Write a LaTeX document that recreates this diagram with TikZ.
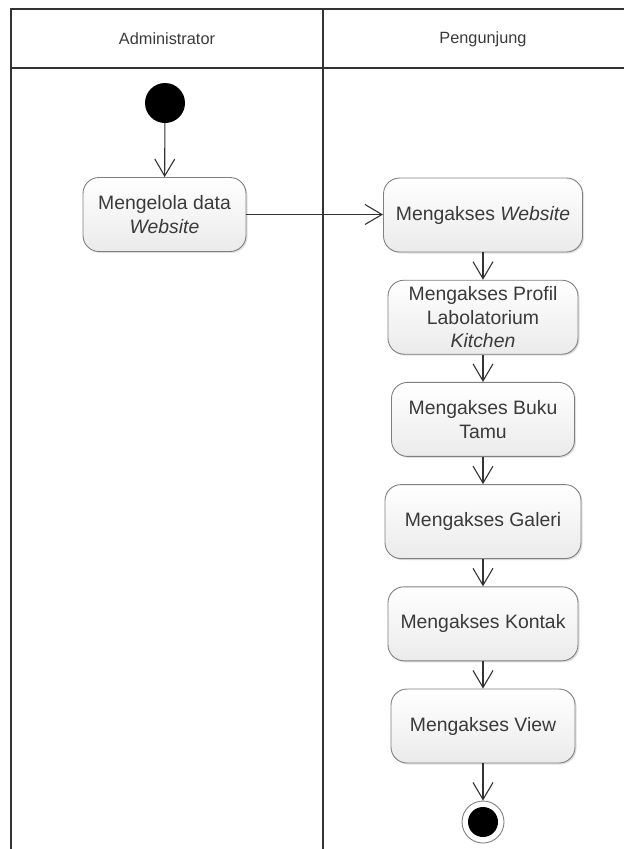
\documentclass[tikz,border=0pt]{standalone}
\usepackage{fontspec}
\setmainfont{Liberation Sans}
\usetikzlibrary{arrows.meta,shadows}
\definecolor{lanecol}{HTML}{333333}
\definecolor{textcol}{HTML}{3A3A3A}
\definecolor{edgecol}{HTML}{808080}

\begin{document}
\begin{tikzpicture}[
    x=1pt, y=-1pt,
    node distance=102.2pt,
    % Node styles:
    lane/.style={font=\fontsize{16.3}{19}\selectfont, text=textcol},
    activity/.style={rectangle, draw=edgecol, line width=0.9pt,
                     rounded corners=16pt, align=center,
                     top color=white, bottom color=gray!16,
                     drop shadow={shadow xshift=1.5pt, shadow yshift=-1.5pt, opacity=0.25},
                     text=textcol, font=\fontsize{19.4}{23.5}\selectfont,
                     minimum height=74pt, inner sep=2pt},
    startnode/.style={circle, fill=black, minimum size=40pt, inner sep=0pt},
    endnode/.style={circle, draw=edgecol, line width=0.9pt, minimum size=42pt, inner sep=0pt,
                    path picture={\fill[black] (path picture bounding box.center) circle (15pt);}},
    % Arrow style:
    flow/.style={-{Straight Barb[length=17pt, width=20pt, line width=1.1pt]},
                 line width=1.1pt, draw=lanecol},
]
\useasboundingbox (0,0) rectangle (624,849);

% --- SWIMLANES ---
\draw[lanecol, line width=1.5pt] (624,9) -- (11,9) -- (11,849);
\draw[lanecol, line width=1.5pt] (11,68) -- (624,68);
\draw[lanecol, line width=1.5pt] (323,9) -- (323,849);
\node[lane] (admin) at (167,39) {Administrator};
\node[lane] (visitor) at (483,39) {Pengunjung};

% --- NODES ---
\node[startnode] (start) at (165,103) {};
\node[activity, minimum width=163pt] (kelola) at (164.5,214.5) {Mengelola data\\\textit{Website}};

\node[activity, minimum width=199pt] (website) at (483,215) {Mengakses \textit{Website}};
\node[activity, minimum width=190pt, below of=website] (profil)
      {Mengakses Profil\\Labolatorium\\\textit{Kitchen}};
\node[activity, minimum width=183pt, below of=profil] (tamu) {Mengakses Buku\\Tamu};
\node[activity, minimum width=196pt, below of=tamu] (galeri) {Mengakses Galeri};
\node[activity, minimum width=190pt, below of=galeri] (kontak) {Mengakses Kontak};
\node[activity, minimum width=184pt, below of=kontak] (view) {Mengakses View};
\node[endnode, below of=view, node distance=96pt] (finish) {};

% --- ARROWS ---
\draw[flow] (start) -- (kelola);
\draw[flow] (kelola.east) -- (kelola.east -| website.west);
\draw[flow] (website) -- (profil);
\draw[flow] (profil) -- (tamu);
\draw[flow] (tamu) -- (galeri);
\draw[flow] (galeri) -- (kontak);
\draw[flow] (kontak) -- (view);
\draw[flow] (view) -- (finish);

\end{tikzpicture}
\end{document}
